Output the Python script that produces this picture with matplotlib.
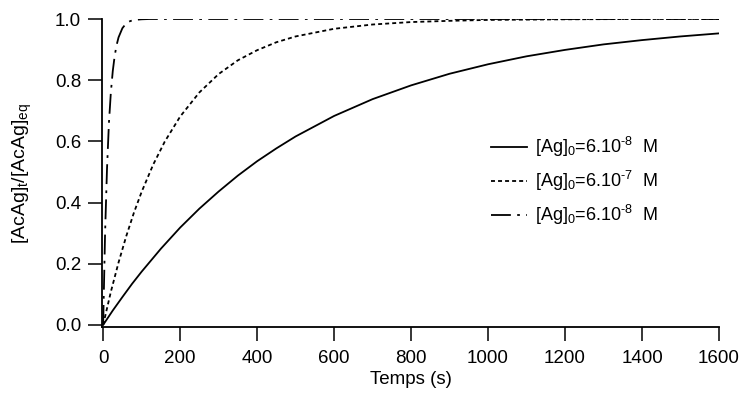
import matplotlib
matplotlib.use('Agg')
import matplotlib.pyplot as plt

plt.rcParams['font.family'] = ['Liberation Sans', 'DejaVu Sans']
plt.rcParams['mathtext.fontset'] = 'custom'
plt.rcParams['mathtext.rm'] = 'Liberation Sans'
plt.rcParams['mathtext.it'] = 'Liberation Sans'
plt.rcParams['mathtext.default'] = 'regular'

# Valeurs
t_lent = [0, 25, 50, 75, 100, 150, 200, 250, 300, 350, 400, 450, 500, 600, 700,
          800, 900, 1000, 1100, 1200, 1300, 1400, 1500, 1600]
y_lent = [0.0, 0.047, 0.091, 0.134, 0.174, 0.249, 0.318, 0.380, 0.436, 0.488,
          0.535, 0.577, 0.616, 0.683, 0.738, 0.783, 0.821, 0.852, 0.878, 0.899,
          0.917, 0.931, 0.943, 0.953]

t_moyen = [0, 20, 40, 60, 80, 100, 130, 160, 200, 250, 300, 350, 400, 450,
           500, 600, 700, 800, 900, 1000, 1200, 1400, 1600]
y_moyen = [0.0, 0.108, 0.204, 0.290, 0.367, 0.435, 0.524, 0.599, 0.681, 0.760,
           0.820, 0.865, 0.898, 0.924, 0.943, 0.968, 0.982, 0.990, 0.994,
           0.997, 0.999, 1.0, 1.0]

t_rapide = [0, 5, 10, 15, 20, 25, 30, 35, 40, 50, 60, 70, 80, 100, 120, 1600]
y_rapide = [0.0, 0.30, 0.51, 0.66, 0.76, 0.83, 0.88, 0.915, 0.94, 0.97, 0.986,
            0.993, 0.997, 0.999, 1.0, 1.0]

labels = [r'[Ag]$_0$=6.10$^{\text{-8}}$  M',
          r'[Ag]$_0$=6.10$^{\text{-7}}$  M',
          r'[Ag]$_0$=6.10$^{\text{-8}}$  M']

fig = plt.figure(figsize=(7.41, 3.97), dpi=100)
ax = fig.add_axes([102 / 741, 1 - 326.7 / 397, (719 - 102) / 741, (326.7 - 19) / 397])

lw = 1.3
ax.plot(t_lent, y_lent, color='black', lw=lw, label=labels[0])
ax.plot(t_moyen, y_moyen, color='black', lw=lw, linestyle=(0, (2.2, 1.7)), label=labels[1])
ax.plot(t_rapide, y_rapide, color='black', lw=lw, linestyle=(0, (11, 3.5, 1.5, 3.5)), label=labels[2])

ax.set_xlim(-3, 1600)
ax.set_ylim(-0.006, 1.0)
ax.set_xticks(range(0, 1601, 200))
ax.set_yticks([0.0, 0.2, 0.4, 0.6, 0.8, 1.0])
ax.set_yticklabels(['0.0', '0.2', '0.4', '0.6', '0.8', '1.0'])

for s in ['top', 'right']:
    ax.spines[s].set_visible(False)
for s in ['left', 'bottom']:
    ax.spines[s].set_linewidth(1.3)

ax.tick_params(direction='out', length=10, width=1.1, labelsize=13.5)
ax.tick_params(axis='x', pad=7)
ax.tick_params(axis='y', pad=5)

ax.set_xlabel('Temps (s)', fontsize=13.5, labelpad=3)
ax.set_ylabel(r'[AcAg]$_t$/[AcAg]$_{eq}$', fontsize=14)
ax.yaxis.set_label_coords(-0.11, 0.5)

ax.legend(loc='center left', bbox_to_anchor=(491 / 741, 1 - 181 / 397),
          bbox_transform=fig.transFigure, frameon=False, fontsize=13,
          handlelength=2.0, handletextpad=0.45, labelspacing=0.55,
          borderpad=0, borderaxespad=0)

plt.savefig('out.png', dpi=100)
